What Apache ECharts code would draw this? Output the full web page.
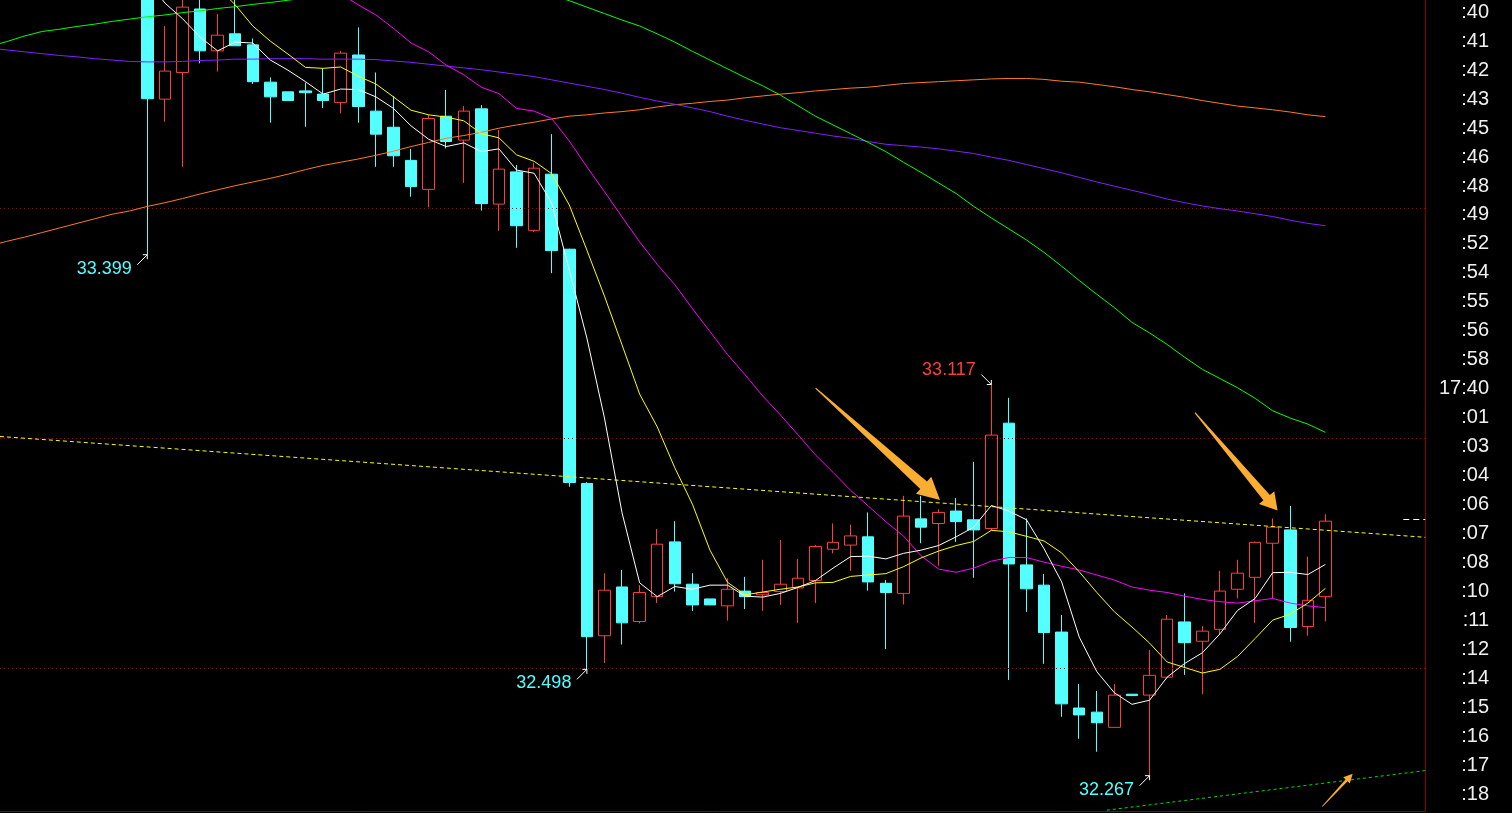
<!DOCTYPE html>
<html><head><meta charset="utf-8">
<script src="https://cdn.jsdelivr.net/npm/echarts@6/dist/echarts.min.js"></script>
<style>html,body{margin:0;padding:0;background:#000;overflow:hidden}#c{width:1512px;height:813px}</style>
</head><body><div id="c"></div>
<script>
// Right-hand tick labels
const timeLabels = [':40',':41',':42',':43',':45',':46',':48',':49',':52',':54',':55',':56',':58','17:40',':01',':03',':04',':06',':07',':08',':10',':11',':12',':14',':15',':16',':17',':18'];

// Candles: [open, close, low, high]
const candles = [
[34.000,33.738,33.399,34.020],[33.737,33.798,33.688,33.896],[33.795,33.937,33.590,33.960],[33.933,33.842,33.815,33.955],
[33.842,33.876,33.797,33.922],[33.879,33.853,33.853,33.955],[33.855,33.775,33.770,33.869],[33.774,33.742,33.686,33.784],
[33.753,33.734,33.734,33.753],[33.755,33.751,33.677,33.773],[33.748,33.734,33.718,33.804],[33.730,33.837,33.706,33.842],
[33.833,33.721,33.686,33.893],[33.711,33.661,33.590,33.795],[33.676,33.614,33.590,33.744],[33.604,33.547,33.525,33.629],
[33.541,33.695,33.502,33.703],[33.700,33.645,33.630,33.757],[33.648,33.711,33.555,33.722],[33.716,33.510,33.495,33.724],
[33.509,33.585,33.451,33.670],[33.579,33.462,33.414,33.594],[33.452,33.587,33.448,33.599],[33.574,33.408,33.359,33.661],
[33.411,32.904,32.895,33.412],[32.902,32.569,32.498,32.905],[32.571,32.670,32.512,32.707],[32.677,32.599,32.552,32.714],
[32.602,32.665,32.598,32.681],[32.656,32.770,32.642,32.803],[32.775,32.684,32.667,32.820],[32.683,32.638,32.625,32.707],
[32.651,32.638,32.638,32.651],[32.636,32.672,32.604,32.696],[32.668,32.656,32.629,32.699],[32.660,32.665,32.625,32.736],
[32.667,32.683,32.638,32.779],[32.675,32.696,32.599,32.738],[32.691,32.765,32.642,32.768],[32.759,32.774,32.750,32.815],
[32.768,32.788,32.712,32.812],[32.786,32.688,32.669,32.839],[32.685,32.665,32.542,32.692],[32.663,32.831,32.639,32.875],
[32.825,32.807,32.772,32.875],[32.815,32.839,32.723,32.846],[32.842,32.819,32.775,32.870],[32.823,32.801,32.697,32.949],
[32.804,33.007,32.800,33.117],[33.033,32.727,32.475,33.088],[32.725,32.673,32.623,32.826],[32.681,32.578,32.510,32.705],
[32.579,32.423,32.395,32.616],[32.414,32.399,32.347,32.466],[32.405,32.382,32.319,32.451],[32.372,32.442,32.372,32.466],
[32.444,32.441,32.441,32.444],[32.442,32.485,32.267,32.540],[32.481,32.607,32.480,32.616],[32.601,32.556,32.486,32.663],
[32.559,32.581,32.444,32.592],[32.585,32.668,32.573,32.712],[32.672,32.707,32.652,32.736],[32.698,32.774,32.599,32.776],
[32.772,32.807,32.652,32.826],[32.801,32.589,32.558,32.853],[32.591,32.648,32.571,32.743],[32.656,32.820,32.602,32.835]
];

// Moving-average lines, each with the candle index of its first value
const maWhiteStart = 0;
const maWhite = [33.996,33.946,33.912,33.872,33.842,33.861,33.859,33.822,33.800,33.775,33.748,33.759,33.758,33.742,33.717,33.679,33.650,33.634,33.642,33.623,33.629,33.583,33.576,33.511,33.366,33.218,33.044,32.838,32.686,32.656,32.678,32.672,32.681,32.681,32.657,32.655,32.663,32.676,32.691,32.718,32.743,32.744,32.738,32.750,32.757,32.767,32.786,32.807,32.854,32.842,32.823,32.760,32.688,32.568,32.493,32.447,32.422,32.431,32.481,32.511,32.534,32.575,32.626,32.652,32.708,32.709,32.704,32.726];
const maYellowStart = 3;
const maYellow = [34.029,33.981,33.942,33.896,33.863,33.835,33.806,33.804,33.807,33.787,33.770,33.742,33.713,33.703,33.698,33.690,33.662,33.653,33.616,33.602,33.575,33.507,33.409,33.309,33.203,33.096,33.025,32.936,32.857,32.757,32.687,32.660,32.666,32.672,32.677,32.686,32.687,32.700,32.703,32.706,32.721,32.740,32.755,32.767,32.776,32.800,32.797,32.787,32.777,32.751,32.710,32.665,32.623,32.590,32.555,32.514,32.502,32.490,32.498,32.526,32.565,32.605,32.618,32.642,32.674];
const maMagentaStart = 8;
const maMagenta = [34.035,34.011,33.987,33.966,33.942,33.920,33.891,33.859,33.840,33.811,33.790,33.763,33.749,33.717,33.711,33.695,33.646,33.590,33.536,33.481,33.427,33.378,33.334,33.282,33.232,33.182,33.138,33.092,33.051,33.008,32.964,32.926,32.887,32.853,32.819,32.788,32.745,32.716,32.709,32.718,32.733,32.741,32.741,32.731,32.722,32.714,32.703,32.692,32.677,32.670,32.665,32.657,32.650,32.645,32.642,32.647,32.652,32.642,32.636,32.632];
const maGreenStart = -9;
const maGreen = [33.851,33.862,33.874,33.884,33.889,33.895,33.900,33.906,33.911,33.916,33.920,33.925,33.929,33.934,33.938,33.943,33.947,33.952,33.957,33.961,33.964,33.968,33.970,33.972,33.973,33.974,33.974,33.974,33.973,33.972,33.970,33.967,33.963,33.951,33.937,33.923,33.909,33.896,33.879,33.861,33.841,33.822,33.803,33.784,33.766,33.746,33.723,33.700,33.681,33.662,33.643,33.623,33.600,33.578,33.555,33.532,33.504,33.479,33.455,33.431,33.404,33.374,33.343,33.313,33.284,33.252,33.229,33.204,33.176,33.150,33.130,33.110,33.087,33.060,33.044,33.031,33.013];
const maPurpleStart = -9;
const maPurple = [33.848,33.844,33.840,33.836,33.832,33.829,33.825,33.822,33.819,33.818,33.818,33.819,33.821,33.822,33.824,33.824,33.825,33.825,33.825,33.824,33.824,33.824,33.823,33.820,33.817,33.813,33.809,33.805,33.801,33.796,33.791,33.786,33.779,33.772,33.765,33.758,33.750,33.741,33.733,33.726,33.718,33.710,33.700,33.691,33.683,33.675,33.669,33.663,33.657,33.652,33.645,33.639,33.636,33.633,33.629,33.624,33.619,33.611,33.604,33.595,33.586,33.577,33.567,33.557,33.548,33.539,33.530,33.520,33.512,33.505,33.499,33.494,33.488,33.482,33.474,33.467,33.462];
const maOrangeStart = -9;
const maOrange = [33.418,33.428,33.437,33.447,33.457,33.467,33.477,33.487,33.494,33.504,33.512,33.521,33.531,33.540,33.549,33.557,33.565,33.574,33.584,33.593,33.600,33.607,33.615,33.624,33.634,33.643,33.652,33.658,33.665,33.674,33.681,33.687,33.694,33.700,33.703,33.707,33.710,33.714,33.720,33.725,33.728,33.732,33.735,33.740,33.744,33.748,33.751,33.755,33.758,33.761,33.763,33.767,33.771,33.773,33.775,33.777,33.779,33.781,33.782,33.782,33.780,33.776,33.774,33.769,33.764,33.758,33.753,33.747,33.741,33.734,33.728,33.722,33.718,33.714,33.709,33.703,33.699];

// Price levels of the dotted guide lines
const guideLevels = [32.5, 33.0, 33.5];
// Hand-drawn trend lines: [candle index, price] end points
const trendYellow = [[-8.376, 33.004], [72.68, 32.785]];
const trendGreen = [[54.57, 32.192], [72.68, 32.278]];
const lastPriceMark = [[71.43, 32.825], [72.68, 32.825]];
// Marked extremes: candle index, price, low/high
const extremes = [
  {i: 0, price: 33.399, kind: 'low'},
  {i: 25, price: 32.498, kind: 'low'},
  {i: 48, price: 33.117, kind: 'high'},
  {i: 57, price: 32.267, kind: 'low'}
];
// Annotation arrows: from / to in [candle index, price]
const arrows = [
  {from: [38.01, 33.109], to: [45.08, 32.866], size: 'big'},
  {from: [59.58, 33.056], to: [64.28, 32.843], size: 'mid'},
  {from: [66.82, 32.200], to: [68.55, 32.271], size: 'small'}
];

const X_MIN = -8.376, X_MAX = 72.68, Y_MIN = 32.1902, Y_MAX = 33.9525;
const UP = '#ff3c3c', DOWN = '#54ffff';

function lineSeries(values, start, color) {
  return {
    type: 'line', xAxisIndex: 0, yAxisIndex: 0, z: 5,
    data: values.map((v, k) => [start + k, v]),
    showSymbol: false, symbol: 'none', silent: true, clip: true,
    lineStyle: {color: color, width: 1}, emphasis: {disabled: true}
  };
}

const chart = echarts.init(document.getElementById('c'));
chart.setOption({
  backgroundColor: '#000',
  animation: false,
  grid: [
    {left: 0, right: 86.7, top: 0, bottom: 2},
    {left: 1497, right: 5, top: 12.3, bottom: 19}
  ],
  xAxis: [
    {type: 'value', gridIndex: 0, min: X_MIN, max: X_MAX, position: 'bottom',
     axisLine: {show: true, onZero: false, lineStyle: {color: '#8c0000'}},
     axisTick: {show: false}, axisLabel: {show: false}, splitLine: {show: false}},
    {type: 'value', gridIndex: 1, show: false}
  ],
  yAxis: [
    {type: 'value', gridIndex: 0, min: Y_MIN, max: Y_MAX, position: 'right',
     axisLine: {show: true, onZero: false, lineStyle: {color: '#8c0000'}},
     axisTick: {show: false}, axisLabel: {show: false}, splitLine: {show: false}},
    {type: 'category', gridIndex: 1, data: timeLabels, inverse: true, boundaryGap: false, position: 'left',
     axisLine: {show: false}, axisTick: {show: false}, splitLine: {show: false},
     axisLabel: {interval: 0, margin: 8, color: '#f0f0f0', fontSize: 20, fontFamily: '"Liberation Sans", Arial, sans-serif'}}
  ],
  series: [
    {
      type: 'candlestick', xAxisIndex: 0, yAxisIndex: 0, z: 3, barWidth: 12, silent: true,
      data: candles.map((d, i) => [i, d[0], d[1], d[2], d[3]]),
      itemStyle: {color: 'transparent', color0: DOWN, borderColor: UP, borderColor0: DOWN, borderWidth: 1},
      emphasis: {disabled: true},
      markLine: {
        silent: true, symbol: ['none', 'none'], label: {show: false}, emphasis: {disabled: true},
        data: [
          ...guideLevels.map(v => ({yAxis: v, lineStyle: {color: '#a00000', type: [1, 3], width: 1}})),
          [{coord: trendYellow[0], lineStyle: {color: '#ffff00', type: [4, 3], width: 1}}, {coord: trendYellow[1]}],
          [{coord: trendGreen[0], lineStyle: {color: '#00dd00', type: [3, 3], width: 1}}, {coord: trendGreen[1]}],
          [{coord: lastPriceMark[0], lineStyle: {color: '#ffffff', type: [6, 4], width: 1}}, {coord: lastPriceMark[1]}]
        ]
      }
    },
    lineSeries(maOrange, maOrangeStart, '#ff7a1e'),
    lineSeries(maPurple, maPurpleStart, '#8020ff'),
    lineSeries(maGreen, maGreenStart, '#00ff00'),
    lineSeries(maMagenta, maMagentaStart, '#ff00ff'),
    lineSeries(maYellow, maYellowStart, '#ffff00'),
    lineSeries(maWhite, maWhiteStart, '#ffffff')
  ]
});

const px = (p) => chart.convertToPixel({xAxisIndex: 0, yAxisIndex: 0}, p);
const g = [];
extremes.forEach(e => {
  const [x, y] = px([e.i, e.price]);
  const dy = e.kind === 'low' ? 1 : -1;
  g.push({type: 'text', z: 20, x: x - 15.5, y: y + dy * 14,
    style: {text: e.price.toFixed(3), fill: e.kind === 'high' ? UP : DOWN, fontSize: 18,
      fontFamily: '"Liberation Sans", Arial, sans-serif', align: 'right', verticalAlign: 'middle'}});
  g.push({type: 'line', z: 20, shape: {x1: x - 10, y1: y + dy * 10, x2: x, y2: y},
    style: {stroke: '#ffffff', lineWidth: 1}});
  g.push({type: 'polyline', z: 20, shape: {points: [[x - 4.5, y], [x, y], [x, y + dy * 4.5]]},
    style: {stroke: '#ffffff', lineWidth: 1, fill: null}});
});
const headDims = {big: [22, 11.5, 5, 0.6], mid: [17, 10, 4.2, 0.6], small: [9, 4.5, 1.4, 0.4]};
arrows.forEach(a => {
  const [tx, ty] = px(a.from), [hx, hy] = px(a.to);
  const len = Math.hypot(hx - tx, hy - ty);
  const ux = (hx - tx) / len, uy = (hy - ty) / len, nx = -uy, ny = ux;
  const [L, H, S, T] = headDims[a.size];
  const bx = hx - ux * L, by = hy - uy * L;
  g.push({type: 'polygon', z: 15, shape: {points: [
    [tx + nx * T, ty + ny * T], [bx + nx * S, by + ny * S], [bx + nx * H, by + ny * H], [hx, hy],
    [bx - nx * H, by - ny * H], [bx - nx * S, by - ny * S], [tx - nx * T, ty - ny * T]]},
    style: {fill: '#f9ae32'}});
});
chart.setOption({graphic: g});
</script>
</body></html>
